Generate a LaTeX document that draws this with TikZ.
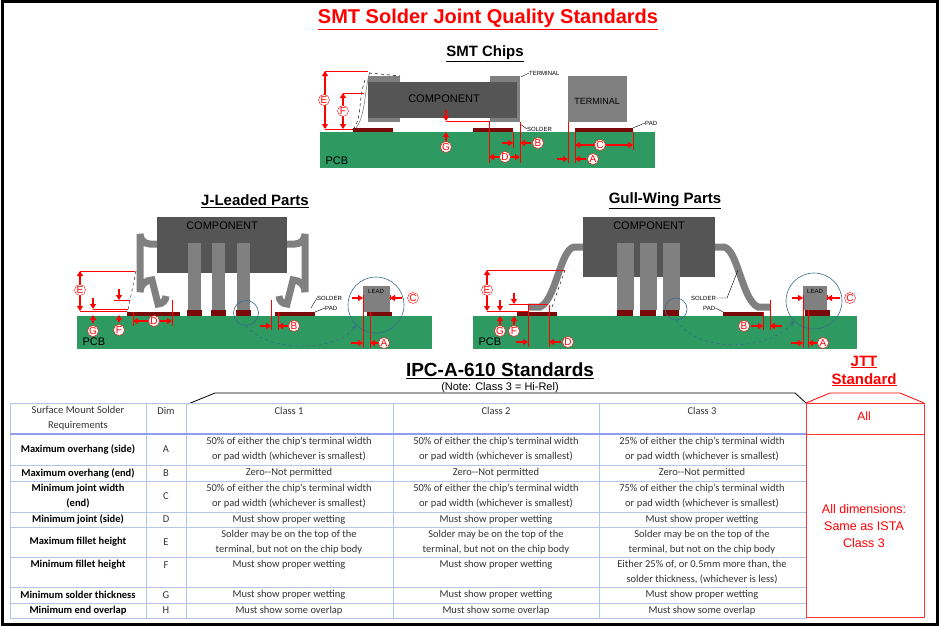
\documentclass[tikz,border=0pt]{standalone}
\usepackage{fontspec}
\setmainfont{Liberation Sans}
\newfontfamily\tabfont{Carlito}
\usetikzlibrary{arrows.meta, positioning, calc}
\definecolor{pcbgreen}{HTML}{2E9A62}
\definecolor{bodygray}{HTML}{555555}
\definecolor{termgray}{HTML}{808080}
\definecolor{padred}{HTML}{7A0A0A}
\definecolor{gridblue}{HTML}{B4C6E7}
\definecolor{ringblue}{HTML}{3A6A8A}
\tikzset{
  pcb/.style={fill=pcbgreen, draw=none},
  chipbody/.style={fill=bodygray, draw=none},
  term/.style={fill=termgray, draw=none},
  pad/.style={fill=padred, draw=none},
  lead/.style={termgray, line width=7pt, line cap=butt},
  dim/.style={circle, draw=red, fill=white, text=red, inner sep=0pt, minimum size=11pt, font=\fontsize{10}{10}\selectfont},
  dimln/.style={red, line width=0.5pt},
  darr/.style={red, line width=1.3pt, -{Triangle[length=5pt,width=6pt]}},
  dboth/.style={red, line width=1.3pt, {Triangle[length=5pt,width=6pt]}-{Triangle[length=5pt,width=6pt]}},
  tiny/.style={font=\fontsize{6}{6}\selectfont, inner sep=0pt},
  ring/.style={circle, draw=ringblue, line width=0.6pt},
  cell/.style={font=\tabfont\fontsize{10.5}{14.5}\selectfont, align=center, text=black!80, inner sep=0pt},
}
\begin{document}
\begin{tikzpicture}[x=1pt, y=-1pt]
  \useasboundingbox (0,0) rectangle (939,626);
  \draw[line width=3pt] (2,2) rectangle (937,624);

  % titles
  \node[text=red, font=\bfseries\fontsize{20}{20}\selectfont] (title) at (488,19) {\underline{SMT Solder Joint Quality Standards}};
  \node[font=\bfseries\fontsize{15}{15}\selectfont] (chiptitle) at (485,54) {\underline{SMT Chips}};
  \node[font=\bfseries\fontsize{15}{15}\selectfont] (jtitle) at (255,201) {\underline{J-Leaded Parts}};
  \node[font=\bfseries\fontsize{15}{15}\selectfont] (gtitle) at (665,201) {\underline{Gull-Wing Parts}};

  % ---------- SMT chips ----------
  \fill[pcb] (320,132) rectangle (655,168);
  \node[anchor=west, font=\fontsize{11}{11}\selectfont] (chippcb) at (322,161) {PCB};
  \fill[pad] (353,128) rectangle (393,132);
  \fill[pad] (473,128) rectangle (513,132);
  \fill[pad] (575,128) rectangle (633,132);
  \fill[term] (368,76) rectangle (400,122);
  \fill[term] (490,76) rectangle (520,122);
  \fill[chipbody] (368,82) rectangle (517,118);
  \node[font=\fontsize{11}{11}\selectfont] (comp) at (444,99) {COMPONENT};
  \fill[term] (568,76) rectangle (627,122);
  \node[font=\fontsize{9}{9}\selectfont] (term) at (597,101) {TERMINAL};
  \draw[termgray, line width=0.6pt] (370,72) .. controls (364,90) and (366,115) .. (356,128);
  \draw[dashed, line width=0.5pt] (369,73) -- (400,76);
  \draw[dashed, line width=0.5pt] (365,80) .. controls (358,100) and (362,118) .. (354,128);
  \node[tiny, anchor=west] (termlbl) at (529,73) {TERMINAL};
  \draw[line width=0.4pt] (termlbl.west) -- (521,77);
  \node[tiny, anchor=west] (solderlbl) at (527,129) {SOLDER};
  \draw[line width=0.4pt] (solderlbl.west) -- (520,124);
  \node[tiny, anchor=west] (padlbl) at (645,123) {PAD};
  \draw[line width=0.4pt] (padlbl.west) -- (633,128);
  % E, F
  \draw[dimln] (325,71) -- (368,71) (325,129) -- (353,129) (343,93) -- (364,93);
  \draw[dboth] (325,71) -- (325,129);
  \draw[dboth] (343,93) -- (343,129);
  \node[dim] (ce) at (324,100) {E};
  \node[dim] (cf) at (343,111) {F};
  % G
  \draw[dimln] (446,121) -- (490,121);
  \draw[darr] (446,110) -- (446,121);
  \draw[darr] (446,143) -- (446,132);
  \node[dim] (cg) at (446,147) {G};
  % D, B
  \draw[dimln] (489,122) -- (489,163) (520,122) -- (520,163) (513,132) -- (513,148);
  \draw[dboth] (489,157) -- (520,157);
  \node[dim] (cd) at (505,157) {D};
  \draw[darr] (502,143) -- (513,143);
  \draw[darr] (531,143) -- (520,143);
  \node[dim] (cb) at (538,143) {B};
  % C, A
  \draw[dimln] (575,132) -- (575,163) (633,132) -- (633,150) (568,122) -- (568,163);
  \draw[dboth] (575,145) -- (633,145);
  \node[dim] (cc) at (600,145) {C};
  \draw[darr] (557,159) -- (568,159);
  \draw[darr] (586,159) -- (575,159);
  \node[dim] (ca) at (593,159) {A};

  % ---------- J-leaded ----------
  \fill[pcb] (77,316) rectangle (432,349);
  \node[anchor=west, font=\fontsize{11}{11}\selectfont] (jpcb) at (79,342) {PCB};
  \draw[lead] (160,244) -- (150,244) arc[start angle=90, end angle=180, radius=10] -- (140,292) arc[start angle=180, end angle=270, radius=12] -- (158,304) arc[start angle=90, end angle=0, radius=8];
  \draw[lead] (285,244) -- (295,244) arc[start angle=90, end angle=0, radius=10] -- (305,292) arc[start angle=0, end angle=-90, radius=12] -- (287,304) arc[start angle=90, end angle=180, radius=8];
  \fill[chipbody] (157,217) rectangle (287,273);
  \node[font=\fontsize{11}{11}\selectfont] (jcomp) at (222,226) {COMPONENT};
  \foreach \x in {188,212,237} {
    \fill[term] (\x,243) rectangle ++(13,67);
    \fill[pad] (\x-1,310) rectangle ++(15,6);
  }
  \fill[pad] (127,312) rectangle (180,316);
  \fill[pad] (275,312) rectangle (315,316);
  \fill[term] (363,286) rectangle (390,312);
  \fill[pad] (367,312) rectangle (392,316);
  \node[tiny] (jlead) at (376,291) {LEAD};
  \node[ring, minimum size=56pt] (jbig) at (376,305) {};
  \node[ring, minimum size=25pt] (jsmall) at (246,313) {};
  \draw[ringblue, dashed, line width=0.6pt, -{Stealth[length=5pt]}] (jsmall.south) .. controls (270,355) and (340,350) .. (jbig.south west);
  \draw[dashed, line width=0.4pt] (136,271) -- (128,310);
  \node[tiny, anchor=west] (jsolder) at (317,298) {SOLDER};
  \draw[line width=0.4pt] (jsolder.west) -- (311,308);
  \node[tiny, anchor=west] (jpad) at (325,308) {PAD};
  \draw[line width=0.4pt] (jpad.west) -- (315,312);
  \draw[dimln] (80,271) -- (135,271) (80,311) -- (127,311) (114,300) -- (130,300) (93,309) -- (128,309);
  \draw[dboth] (80,271) -- (80,311);
  \node[dim] (je) at (80,290) {E};
  \draw[darr] (93,298) -- (93,309);
  \draw[darr] (93,323) -- (93,315);
  \node[dim] (jg) at (93,331) {G};
  \draw[darr] (119,289) -- (119,300);
  \draw[darr] (119,322) -- (119,315);
  \node[dim] (jf) at (119,330) {F};
  \draw[dimln] (133,312) -- (133,326) (172,300) -- (172,326);
  \draw[dboth] (133,321) -- (172,321);
  \node[dim] (jd) at (154,321) {D};
  \draw[dimln] (271,300) -- (271,330) (278,312) -- (278,330);
  \draw[darr] (260,326) -- (271,326);
  \draw[darr] (289,326) -- (278,326);
  \node[dim] (jb) at (294,326) {B};
  \draw[dimln] (363,295) -- (363,348) (370,312) -- (370,348) (390,295) -- (390,300);
  \draw[darr] (352,298) -- (363,298);
  \draw[darr] (402,298) -- (390,298);
  \node[dim] (jc) at (413,298) {C};
  \draw[darr] (351,343) -- (363,343);
  \draw[darr] (380,343) -- (370,343);
  \node[dim] (ja) at (384,343) {A};

  % ---------- Gull-wing ----------
  \fill[pcb] (473,316) rectangle (857,349);
  \node[anchor=west, font=\fontsize{11}{11}\selectfont] (gpcb) at (475,342) {PCB};
  \draw[lead] (585,247) -- (574,247) .. controls (560,250) and (556,300) .. (540,307) -- (528,307);
  \draw[lead] (713,247) -- (724,247) .. controls (738,250) and (742,300) .. (758,307) -- (770,307);
  \fill[chipbody] (583,217) rectangle (715,277);
  \node[font=\fontsize{11}{11}\selectfont] (gcomp) at (649,226) {COMPONENT};
  \foreach \x in {617,640,663} {
    \fill[term] (\x,243) rectangle ++(17,67);
    \fill[pad] (\x,310) rectangle ++(16,6);
  }
  \fill[pad] (517,312) rectangle (557,316);
  \fill[pad] (723,312) rectangle (763,316);
  \fill[term] (803,286) rectangle (827,310);
  \fill[pad] (805,310) rectangle (830,316);
  \node[tiny] (glead) at (815,291) {LEAD};
  \node[ring, minimum size=56pt] (gbig) at (814,301) {};
  \node[ring, minimum size=22pt] (gsmall) at (676,309) {};
  \draw[ringblue, dashed, line width=0.6pt, -{Stealth[length=5pt]}] (gsmall.south) .. controls (700,355) and (770,350) .. (gbig.south west);
  \draw[dashed, line width=0.4pt] (565,270) -- (551,310);
  \node[tiny, anchor=west] (gsolder) at (691,298) {SOLDER};
  \draw[line width=0.4pt] (gsolder.east) -- (727,298) -- (738,270);
  \node[tiny, anchor=west] (gpad) at (703,308) {PAD};
  \draw[line width=0.4pt] (gpad.east) -- (723,312);
  \draw[dimln] (487,270) -- (565,270) (487,311) -- (528,311) (509,304) -- (548,304) (500,311) -- (528,311);
  \draw[dboth] (487,270) -- (487,311);
  \node[dim] (ge) at (487,290) {E};
  \draw[darr] (500,300) -- (500,311);
  \draw[darr] (500,325) -- (500,316);
  \node[dim] (gg) at (500,331) {G};
  \draw[darr] (514,293) -- (514,304);
  \draw[darr] (514,325) -- (514,316);
  \node[dim] (gf) at (514,331) {F};
  \draw[dimln] (528,305) -- (528,347) (549,305) -- (549,347);
  \draw[darr] (516,342) -- (528,342);
  \draw[darr] (561,342) -- (549,342);
  \node[dim] (gd) at (568,342) {D};
  \draw[dimln] (763,312) -- (763,330) (770,300) -- (770,330);
  \draw[darr] (751,326) -- (763,326);
  \draw[darr] (782,326) -- (770,326);
  \node[dim] (gb) at (744,326) {B};
  \draw[dimln] (803,295) -- (803,348) (808,310) -- (808,348) (827,295) -- (827,300);
  \draw[darr] (792,298) -- (803,298);
  \draw[darr] (840,298) -- (827,298);
  \node[dim] (gc) at (850,298) {C};
  \draw[darr] (791,343) -- (803,343);
  \draw[darr] (818,343) -- (808,343);
  \node[dim] (ga) at (823,343) {A};

  % ---------- table headings ----------
  \node[font=\bfseries\fontsize{19}{19}\selectfont] (ipc) at (500,371) {\underline{IPC-A-610 Standards}};
  \node[font=\fontsize{11}{11}\selectfont] (note) at (500,388) {(Note: Class 3 = Hi-Rel)};
  \node[text=red, font=\bfseries\fontsize{15}{18}\selectfont, align=center] (jtt) at (864,371) {\underline{JTT}\\\underline{Standard}};
  \draw[line width=0.8pt] (188,404) -- (215,393) -- (795,393) -- (806,403);
  \draw[red, line width=0.8pt] (806,403) -- (830,393) -- (900,393) -- (924,403);

  % ---------- table ----------
  \draw[gridblue, line width=0.8pt] (10,403) rectangle (806,618);
  \foreach \x in {146,186,393,599} \draw[gridblue, line width=0.8pt] (\x,403) -- (\x,618);
  \foreach \y in {465,481,512,527,557,587,603} \draw[gridblue, line width=0.8pt] (10,\y) -- (806,\y);
  \draw[gridblue!80!blue, line width=2.2pt] (10,434) -- (806,434);
  \node[cell] (hreq) at (78,418) {Surface Mount Solder\\Requirements};
  \node[cell] (hdim) at (166,411) {Dim};
  \node[cell] (hc1) at (289,411) {Class 1};
  \node[cell] (hc2) at (496,411) {Class 2};
  \node[cell] (hc3) at (702,411) {Class 3};
  \foreach \y/\req/\d/\ca/\cb/\cc in {
    449/{Maximum overhang (side)}/A/{50\% of either the chip’s terminal width\\or pad width (whichever is smallest)}/{50\% of either the chip’s terminal width\\or pad width (whichever is smallest)}/{25\% of either the chip’s terminal width\\or pad width (whichever is smallest)},
    473/{Maximum overhang (end)}/B/{Zero--Not permitted}/{Zero--Not permitted}/{Zero--Not permitted},
    496/{Minimum joint width\\(end)}/C/{50\% of either the chip’s terminal width\\or pad width (whichever is smallest)}/{50\% of either the chip’s terminal width\\or pad width (whichever is smallest)}/{75\% of either the chip’s terminal width\\or pad width (whichever is smallest)},
    519.5/{Minimum joint (side)}/D/{Must show proper wetting}/{Must show proper wetting}/{Must show proper wetting},
    542/{Maximum fillet height}/E/{Solder may be on the top of the\\terminal, but not on the chip body}/{Solder may be on the top of the\\terminal, but not on the chip body}/{Solder may be on the top of the\\terminal, but not on the chip body},
    595/{Minimum solder thickness}/G/{Must show proper wetting}/{Must show proper wetting}/{Must show proper wetting},
    610.5/{Minimum end overlap}/H/{Must show some overlap}/{Must show some overlap}/{Must show some overlap}} {
    \node[cell, text=black, font=\tabfont\bfseries\fontsize{10.5}{14.5}\selectfont] at (78,\y) {\req};
    \node[cell] at (166,\y) {\d};
    \node[cell] at (289,\y) {\ca};
    \node[cell] at (496,\y) {\cb};
    \node[cell] at (702,\y) {\cc};
  }
  \node[cell, text=black, font=\tabfont\bfseries\fontsize{10.5}{14.5}\selectfont] (rowf) at (78,565) {Minimum fillet height};
  \node[cell] (fdim) at (166,565) {F};
  \node[cell] (fc1) at (289,565) {Must show proper wetting};
  \node[cell] (fc2) at (496,565) {Must show proper wetting};
  \node[cell] (fc3) at (702,572) {Either 25\% of, or 0.5mm more than, the\\solder thickness, (whichever is less)};

  % JTT column
  \draw[red!80, line width=0.8pt] (806,403) rectangle (924,617);
  \draw[red!80, line width=0.8pt] (806,434) -- (924,434);
  \node[text=red, font=\fontsize{12}{12}\selectfont] (jall) at (864,416) {All};
  \node[text=red, font=\fontsize{12.5}{17}\selectfont, align=center] (jdims) at (864,526) {All dimensions:\\Same as ISTA\\Class 3};
\end{tikzpicture}
\end{document}
